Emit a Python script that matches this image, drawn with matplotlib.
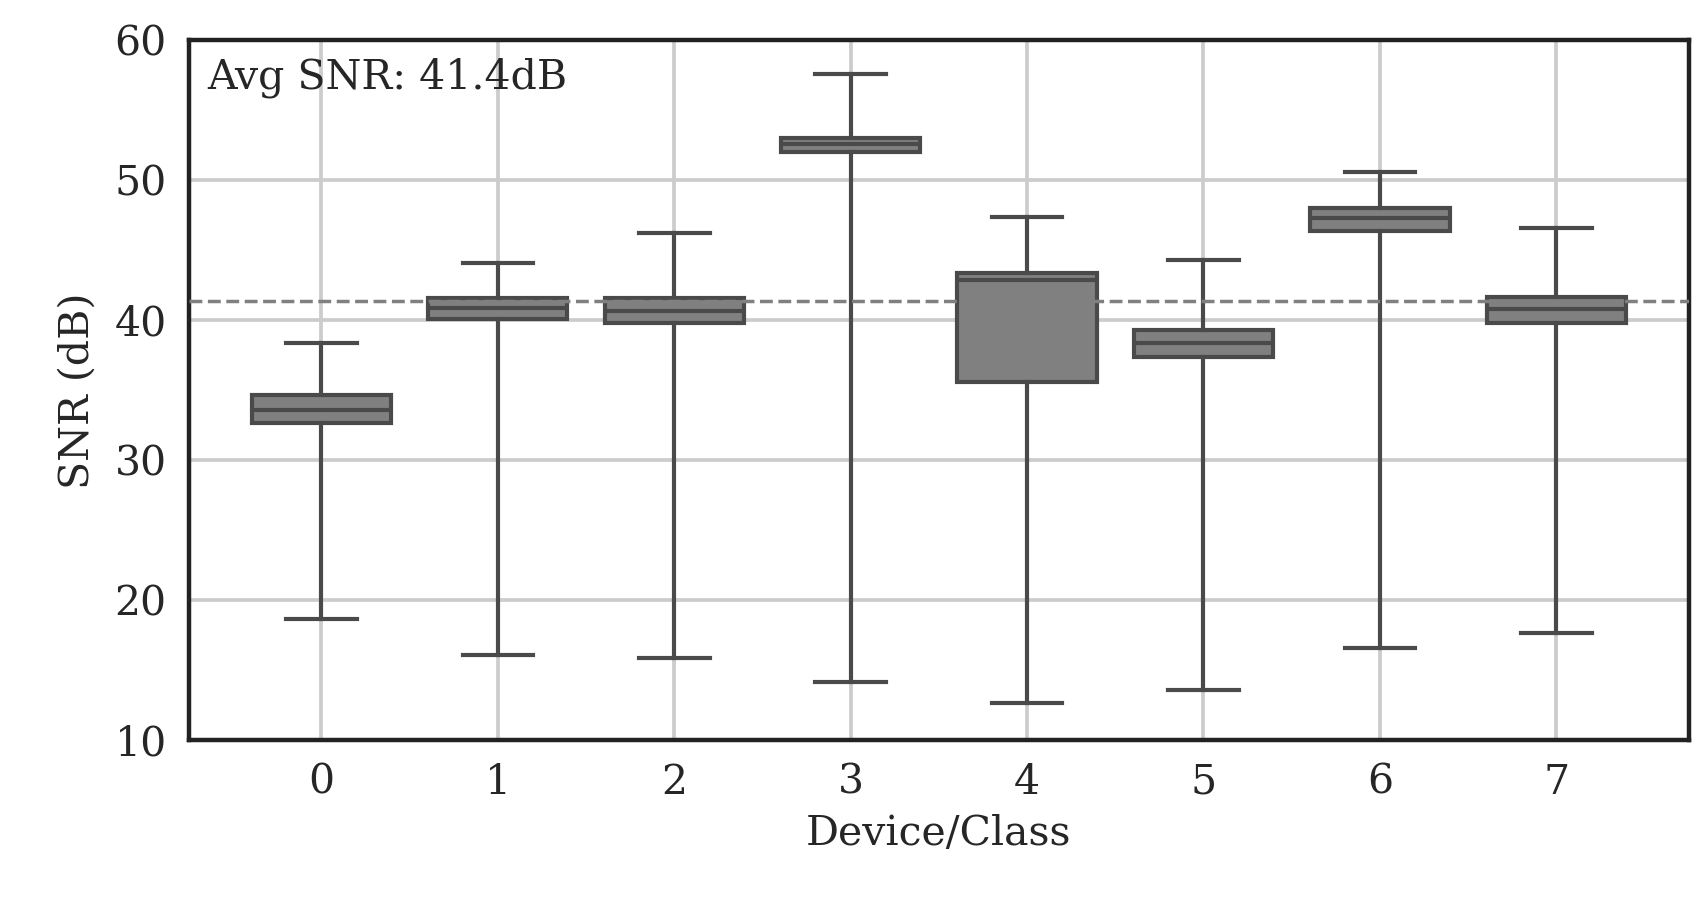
import matplotlib
matplotlib.use("Agg")
import matplotlib.pyplot as plt

classes = [0, 1, 2, 3, 4, 5, 6, 7]
whislo = [18.7, 16.1, 15.9, 14.2, 12.7, 13.6, 16.6, 17.7]
q1 = [32.65, 40.1, 39.8, 52.0, 35.6, 37.4, 46.4, 39.8]
med = [33.6, 40.9, 40.7, 52.6, 42.9, 38.4, 47.3, 40.8]
q3 = [34.7, 41.6, 41.6, 53.0, 43.4, 39.3, 48.0, 41.7]
whishi = [38.4, 44.1, 46.25, 57.6, 47.4, 44.3, 50.6, 46.6]
avg_snr = 41.4

plt.rcParams['font.family'] = ['DejaVu Serif']
fig = plt.figure(figsize=(17.05, 9), dpi=100)
W, H = 1560, 823
ax = fig.add_axes([173/W, 1-677/H, (1545-173)/W, (677-37)/H])

stats = [dict(whislo=a, q1=b, med=c, q3=d, whishi=e, fliers=[])
         for a, b, c, d, e in zip(whislo, q1, med, q3, whishi)]
col = '#4a4a4a'
ax.bxp(stats, positions=classes, widths=0.79, patch_artist=True,
       boxprops=dict(facecolor='#808080', edgecolor=col, linewidth=3),
       medianprops=dict(color=col, linewidth=3),
       whiskerprops=dict(color=col, linewidth=3),
       capprops=dict(color=col, linewidth=3), capwidths=0.4, zorder=3)
ax.axhline(avg_snr, color='gray', linestyle='--', linewidth=2.5, zorder=4)
ax.set_ylim(10, 60)
ax.set_xlim(-0.75, 7.75)
ax.set_yticks([10, 20, 30, 40, 50, 60])
ax.set_xticks(classes)
ax.set_xticklabels([str(c) for c in classes])
ax.grid(True, color='#cccccc', linewidth=2.7, zorder=0)
ax.set_axisbelow(True)
for s in ax.spines.values():
    s.set_linewidth(3.2)
    s.set_color('#222222')
ax.tick_params(axis='both', labelsize=29.5, length=0, pad=16, colors='#262626')
ax.set_xlabel('Device/Class', fontsize=29.5, color='#262626', labelpad=8)
ax.set_ylabel('SNR (dB)', fontsize=29.5, color='#262626', labelpad=12)
ax.text(0.012, 0.975, f'Avg SNR: {avg_snr}dB', transform=ax.transAxes,
        fontsize=29.5, va='top', ha='left', color='#262626')
fig.savefig('out.png', dpi=100)
